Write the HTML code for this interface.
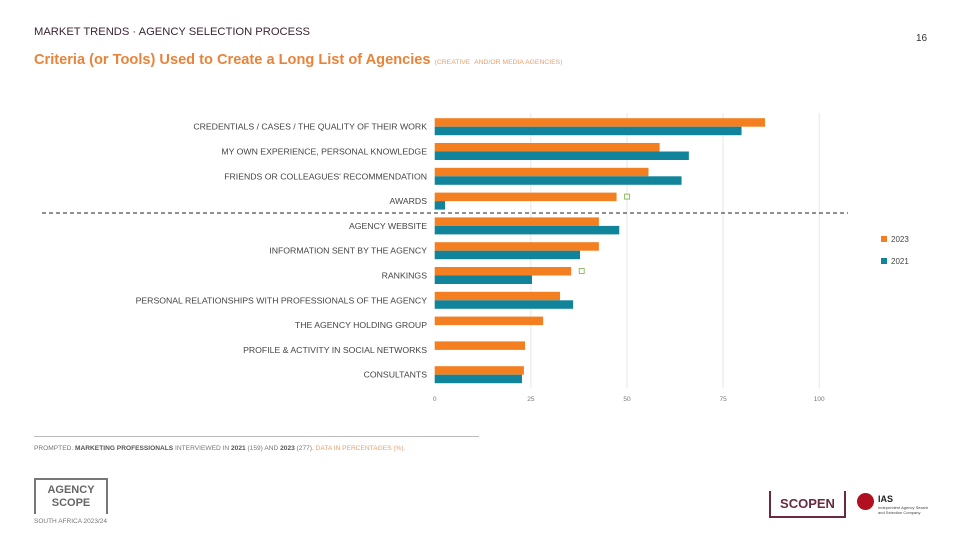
<!DOCTYPE html>
<html><head><meta charset="utf-8"><style>
body{margin:0;width:960px;height:540px;background:#fff;font-family:"Liberation Sans",sans-serif;position:relative;overflow:hidden}
.abs{position:absolute}
</style></head><body>
<div class="abs" style="left:34px;top:26px;font-size:11.2px;color:#3d2535">MARKET TRENDS · AGENCY SELECTION PROCESS</div>
<div class="abs" style="left:916px;top:33px;font-size:10px;color:#333">16</div>
<div class="abs" style="left:34px;top:52px;font-size:14.6px;font-weight:bold;color:#e8843a;white-space:nowrap">Criteria (or Tools) Used to Create a Long List of Agencies <span style="font-size:6.8px;font-weight:normal;color:#e8a070">(CREATIVE &nbsp;AND/OR MEDIA AGENCIES)</span></div>
<svg class="abs" style="left:0;top:0" width="960" height="540" id="chart"></svg>
<div class="abs" style="left:34px;top:436px;width:445px;height:1px;background:#bbb"></div>
<div class="abs" style="left:34px;top:445px;font-size:6.6px;color:#777;white-space:nowrap">PROMPTED. <b style="color:#555">MARKETING PROFESSIONALS</b> INTERVIEWED IN <b style="color:#555">2021</b> (159) AND <b style="color:#555">2023</b> (277). <span style="color:#e8a070">DATA IN PERCENTAGES (%).</span></div>
<div class="abs" style="left:34px;top:478px;width:74px;height:36px;border:2px solid #777;box-sizing:border-box;border-bottom:none;text-align:center;font-size:11px;font-weight:bold;color:#666;line-height:13px;padding-top:4px">AGENCY<br>SCOPE</div>
<div class="abs" style="left:34px;top:518px;font-size:6.5px;color:#777">SOUTH AFRICA 2023/24</div>
<div class="abs" style="left:769px;top:491px;width:77px;height:27px;border:2px solid #6a2a40;border-top:none;box-sizing:border-box;text-align:center;font-size:13px;font-weight:bold;color:#6a2a40;line-height:26px">SCOPEN</div>
<div class="abs" style="left:857px;top:493px;width:17px;height:17px;border-radius:50%;background:#b01020"></div>
<div class="abs" style="left:878px;top:494px;font-size:9px;font-weight:bold;color:#222">IAS</div>
<div class="abs" style="left:878px;top:505px;font-size:4px;color:#444;line-height:5px">Independent Agency Search<br>and Selection Company</div>
<script>
const categories=["CREDENTIALS / CASES / THE QUALITY OF THEIR WORK","MY OWN EXPERIENCE, PERSONAL KNOWLEDGE","FRIENDS OR COLLEAGUES' RECOMMENDATION","AWARDS","AGENCY WEBSITE","INFORMATION SENT BY THE AGENCY","RANKINGS","PERSONAL RELATIONSHIPS WITH PROFESSIONALS OF THE AGENCY","THE AGENCY HOLDING GROUP","PROFILE & ACTIVITY IN SOCIAL NETWORKS","CONSULTANTS"];
const values2023=[85.9,58.5,55.6,47.3,42.7,42.7,35.5,32.6,28.2,23.5,23.2];
const values2021=[79.8,66.1,64.2,2.7,48,37.8,25.3,36,null,null,22.7];
const ticks=[0,25,50,75,100];
const markers=[3,6];
const NS="http://www.w3.org/2000/svg",svg=document.getElementById("chart");
const x=v=>434.7+v*3.845, yc=i=>126.7+i*24.8;
function mk(t,a){const e=document.createElementNS(NS,t);for(const k in a)e.setAttribute(k,a[k]);svg.appendChild(e);return e;}
ticks.forEach(t=>{
 if(t>0){const g=mk("line",{x1:x(t),x2:x(t),y1:113,y2:388,stroke:"#e6e6e6","stroke-width":1});
 
 }
 const l=mk("text",{x:x(t),y:401,"font-size":6.5,fill:"#777","text-anchor":"middle"});l.textContent=t;
 
 
});
categories.forEach((c,i)=>{
 const t=mk("text",{x:427,y:yc(i)+3,"font-size":8.7,fill:"#444","text-anchor":"end"});t.textContent=c;
 
 
 const b=mk("rect",{x:x(0),y:yc(i)-8.5,width:x(values2023[i])-x(0),height:8.5,fill:"#f47f20"});
 
 
 if(values2021[i]!=null){const b2=mk("rect",{x:x(0),y:yc(i),width:x(values2021[i])-x(0),height:8.5,fill:"#11849c"});
 
 }
});
markers.forEach(i=>{const m=mk("rect",{x:x(values2023[i])+8,y:yc(i)-7,width:5,height:5,fill:"none",stroke:"#7ab040","stroke-width":0.8});
 
 });
const d=mk("line",{x1:42,x2:848,y1:213,y2:213,stroke:"#222","stroke-dasharray":"4,3","stroke-width":1});


[["2023","#f47f20",241],["2021","#11849c",263]].forEach(([n,c,y])=>{
 const r=mk("rect",{x:881,y:y-5,width:6,height:6,fill:c});
 
 
 const t=mk("text",{x:891,y:y+1,"font-size":8,fill:"#444"});t.textContent=n;
 
 
});
</script>
</body></html>
